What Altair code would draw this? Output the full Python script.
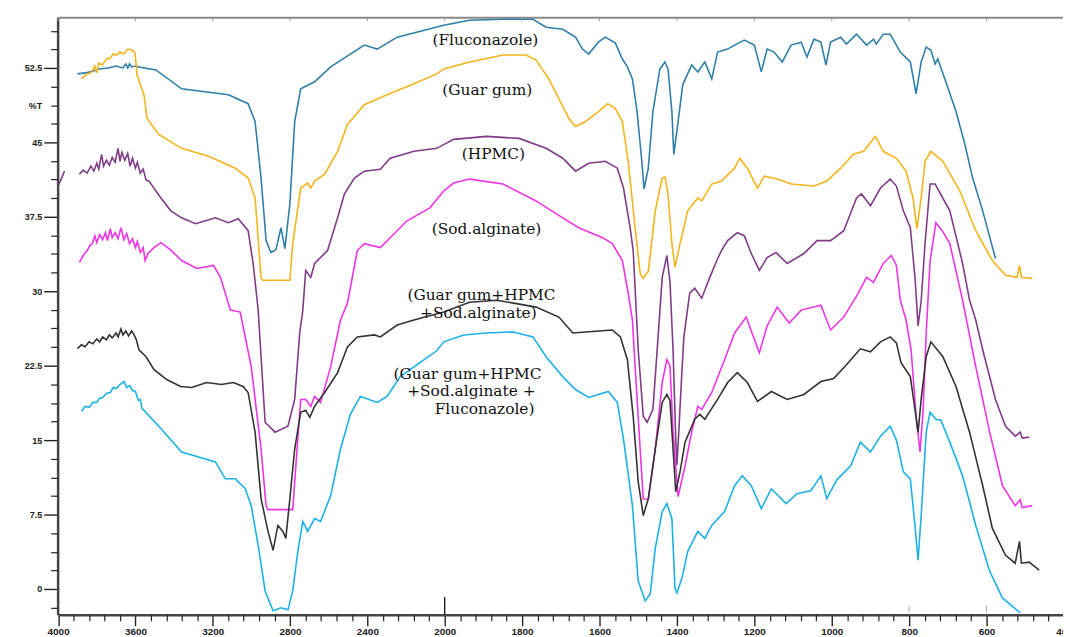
import altair as alt
import pandas as pd

# ---------------- data (wavenumber cm-1, %T) ----------------
FLU_WN = [3900, 3860, 3820, 3787, 3740, 3700, 3665, 3650, 3640, 3630, 3620, 3600, 3582, 3494, 3361, 3119, 3017, 2981, 2950, 2924, 2899, 2873, 2847, 2827, 2801, 2776, 2745, 2673, 2590, 2416, 2349, 2246, 2005, 1936, 1849, 1772, 1738, 1695, 1662, 1644, 1628, 1603, 1585, 1559, 1541, 1528, 1515, 1503, 1490, 1485, 1474, 1462, 1444, 1431, 1423, 1413, 1408, 1397, 1385, 1362, 1346, 1328, 1310, 1295, 1269, 1251, 1226, 1200, 1182, 1167, 1149, 1128, 1105, 1079, 1064, 1046, 1028, 1015, 1003, 977, 962, 936, 910, 892, 885, 867, 849, 823, 797, 782, 769, 756, 744, 733, 726, 708, 679, 656, 636, 610, 577]
FLU_T = [51.9, 52.0, 52.2, 52.4, 52.5, 52.7, 52.5, 52.9, 52.5, 52.9, 52.6, 52.7, 52.6, 52.3, 50.4, 49.8, 48.9, 47.1, 41.4, 35.1, 33.9, 34.2, 36.4, 34.3, 38.8, 47.1, 50.4, 51.1, 52.6, 54.8, 54.4, 55.6, 56.8, 57.3, 57.4, 57.4, 56.6, 56.4, 55.6, 54.4, 53.9, 55.1, 55.6, 55.0, 53.4, 52.6, 51.4, 48.1, 42.8, 40.3, 42.4, 48.1, 52.4, 53.1, 52.4, 48.1, 43.8, 47.1, 50.8, 52.8, 52.1, 53.1, 51.4, 54.1, 54.4, 54.8, 55.3, 54.8, 52.1, 54.4, 54.1, 53.1, 54.8, 55.1, 53.6, 55.4, 55.1, 52.8, 55.1, 55.6, 54.9, 55.9, 54.8, 55.4, 54.9, 55.9, 55.9, 54.1, 53.1, 49.9, 53.1, 54.6, 54.3, 52.9, 53.4, 51.4, 48.1, 44.8, 41.4, 38.1, 33.3]

GUAR_WN = [3879, 3850, 3830, 3810, 3800, 3790, 3771, 3750, 3730, 3715, 3700, 3680, 3660, 3640, 3617, 3602, 3592, 3556, 3540, 3479, 3361, 3222, 3083, 3017, 2981, 2950, 2940, 2801, 2786, 2745, 2709, 2693, 2673, 2621, 2554, 2503, 2416, 2298, 2159, 2041, 2005, 1936, 1849, 1790, 1764, 1731, 1705, 1679, 1662, 1636, 1603, 1579, 1559, 1541, 1526, 1508, 1495, 1487, 1474, 1456, 1438, 1431, 1423, 1413, 1405, 1392, 1372, 1346, 1336, 1310, 1285, 1251, 1238, 1218, 1192, 1174, 1141, 1105, 1046, 1013, 977, 944, 918, 887, 867, 833, 808, 790, 780, 769, 759, 744, 713, 669, 628, 585, 551, 521, 515, 510, 482]
GUAR_T = [51.4, 51.9, 52.0, 52.7, 52.0, 53.0, 52.8, 53.4, 53.5, 53.9, 53.8, 54.1, 53.9, 54.4, 54.3, 54.0, 51.8, 49.8, 47.4, 45.8, 44.4, 43.6, 42.4, 41.4, 39.4, 31.4, 31.1, 31.1, 34.8, 40.4, 40.9, 40.4, 41.1, 41.8, 44.1, 46.8, 48.8, 49.8, 50.9, 51.9, 52.4, 53.1, 53.8, 53.8, 53.3, 51.4, 49.4, 47.4, 46.6, 47.1, 48.1, 48.9, 48.4, 47.1, 43.1, 36.4, 31.8, 31.3, 32.0, 38.1, 41.4, 41.5, 39.8, 34.8, 32.4, 34.8, 38.1, 39.4, 39.1, 40.8, 41.1, 42.4, 43.4, 42.4, 40.4, 41.6, 41.3, 40.8, 40.6, 41.1, 42.4, 43.8, 44.1, 45.6, 44.1, 43.4, 42.1, 39.4, 36.3, 39.4, 43.1, 44.1, 43.1, 40.1, 36.1, 33.1, 31.6, 31.4, 32.6, 31.4, 31.3]

HPMC_START_WN = [4000, 3982, 3967]
HPMC_START_T = [40.6, 41.4, 42.1]
HPMC_WN = [3890, 3870, 3850, 3830, 3815, 3800, 3790, 3775, 3765, 3750, 3735, 3720, 3705, 3690, 3680, 3670, 3655, 3640, 3628, 3615, 3600, 3590, 3575, 3560, 3545, 3530, 3468, 3417, 3361, 3289, 3186, 3119, 3068, 3017, 2991, 2965, 2929, 2878, 2811, 2776, 2750, 2734, 2719, 2693, 2673, 2606, 2554, 2519, 2467, 2416, 2333, 2282, 2159, 2041, 1977, 1892, 1808, 1738, 1695, 1662, 1628, 1585, 1554, 1538, 1521, 1513, 1500, 1487, 1477, 1462, 1451, 1438, 1426, 1418, 1410, 1403, 1400, 1395, 1387, 1382, 1367, 1354, 1336, 1315, 1297, 1285, 1269, 1244, 1226, 1208, 1187, 1167, 1144, 1115, 1072, 1038, 1003, 969, 936, 923, 900, 874, 849, 833, 815, 797, 785, 777, 769, 759, 746, 733, 695, 662, 644, 628, 610, 577, 551, 526, 513, 508, 490]
HPMC_T = [41.8, 42.2, 41.9, 42.6, 42.1, 42.9, 42.3, 43.8, 42.6, 43.2, 42.7, 43.5, 43.0, 44.4, 43.1, 44.0, 43.2, 43.9, 42.6, 43.4, 42.4, 43.0, 41.9, 42.3, 41.2, 41.1, 39.4, 38.1, 37.4, 36.8, 37.4, 36.9, 37.3, 36.1, 32.8, 28.1, 16.8, 15.8, 16.4, 19.1, 25.8, 28.1, 32.1, 31.4, 32.8, 34.1, 37.4, 39.8, 41.4, 42.1, 42.3, 43.4, 44.1, 44.4, 45.3, 45.6, 45.4, 44.4, 43.4, 42.1, 42.9, 43.1, 42.4, 40.4, 36.4, 34.1, 24.1, 17.4, 16.8, 18.1, 24.1, 31.4, 33.6, 31.0, 24.1, 15.0, 12.5, 16.0, 22.0, 25.4, 29.8, 30.3, 29.3, 31.4, 33.1, 34.1, 35.1, 35.9, 35.6, 33.8, 32.1, 33.4, 33.9, 32.8, 33.8, 35.1, 35.1, 36.1, 39.4, 39.8, 38.6, 40.4, 41.3, 40.6, 38.1, 36.4, 31.4, 26.5, 29.0, 34.8, 40.8, 40.8, 38.1, 32.8, 29.1, 27.1, 24.1, 19.1, 16.4, 15.4, 15.8, 15.2, 15.3]

ALG_WN = [3890, 3870, 3850, 3835, 3823, 3810, 3800, 3785, 3770, 3755, 3745, 3730, 3720, 3705, 3690, 3675, 3660, 3645, 3630, 3615, 3600, 3590, 3575, 3560, 3550, 3535, 3504, 3468, 3420, 3361, 3283, 3196, 3160, 3109, 3058, 3001, 2950, 2924, 2914, 2786, 2770, 2745, 2719, 2693, 2673, 2642, 2590, 2539, 2503, 2452, 2416, 2333, 2246, 2195, 2077, 2005, 1977, 1936, 1849, 1764, 1695, 1654, 1592, 1567, 1541, 1526, 1515, 1508, 1495, 1487, 1474, 1456, 1438, 1426, 1418, 1410, 1397, 1379, 1362, 1346, 1336, 1310, 1277, 1251, 1221, 1208, 1187, 1167, 1141, 1110, 1079, 1028, 1003, 969, 936, 910, 892, 867, 846, 833, 823, 808, 795, 782, 772, 764, 756, 746, 731, 713, 695, 662, 628, 592, 559, 526, 513, 508, 482]
ALG_T = [32.9, 33.6, 34.1, 34.6, 34.8, 35.6, 34.9, 35.7, 35.2, 35.9, 35.1, 36.3, 35.4, 35.9, 35.3, 36.4, 35.2, 35.8, 34.8, 35.3, 34.4, 35.0, 33.9, 34.4, 33.1, 33.8, 34.4, 34.9, 34.2, 33.1, 32.3, 32.6, 31.4, 28.1, 27.9, 22.4, 14.1, 8.4, 8.0, 8.0, 12.4, 19.1, 19.1, 18.4, 19.4, 18.8, 22.4, 27.1, 28.8, 34.1, 34.8, 34.4, 36.1, 37.1, 38.4, 40.1, 40.9, 41.3, 40.8, 39.1, 37.4, 36.4, 35.4, 34.8, 33.1, 29.8, 27.1, 22.4, 14.1, 9.1, 9.0, 14.1, 20.8, 23.1, 22.5, 15.8, 9.3, 12.4, 15.8, 18.4, 18.1, 19.8, 23.1, 25.8, 27.4, 26.0, 23.8, 26.5, 28.4, 26.8, 28.1, 28.6, 26.1, 27.4, 29.5, 31.4, 30.9, 32.8, 33.6, 32.6, 29.1, 27.1, 24.1, 17.4, 13.8, 18.0, 25.8, 33.0, 36.9, 36.0, 34.8, 29.1, 22.4, 15.8, 10.4, 8.4, 9.0, 8.2, 8.4]

MIX_WN = [3900, 3880, 3860, 3840, 3820, 3800, 3785, 3770, 3750, 3735, 3720, 3700, 3690, 3675, 3665, 3650, 3635, 3620, 3607, 3595, 3582, 3545, 3504, 3438, 3366, 3309, 3232, 3155, 3093, 3043, 3017, 2981, 2950, 2914, 2888, 2863, 2837, 2822, 2801, 2776, 2745, 2719, 2698, 2673, 2621, 2554, 2503, 2452, 2364, 2333, 2246, 2159, 2005, 1936, 1865, 1764, 1705, 1669, 1636, 1567, 1546, 1528, 1513, 1500, 1487, 1474, 1456, 1438, 1426, 1418, 1410, 1403, 1392, 1379, 1354, 1341, 1328, 1295, 1269, 1244, 1218, 1192, 1156, 1115, 1072, 1028, 995, 962, 926, 900, 874, 849, 833, 821, 797, 785, 777, 769, 756, 744, 713, 679, 644, 610, 585, 551, 526, 515, 510, 490, 464]
MIX_T = [24.2, 24.6, 24.4, 24.9, 24.7, 25.2, 24.9, 25.4, 25.1, 25.6, 25.3, 25.8, 25.4, 26.2, 25.6, 26.0, 25.5, 26.0, 25.6, 25.1, 24.1, 23.4, 22.1, 21.1, 20.4, 20.3, 20.8, 20.6, 20.8, 20.4, 19.8, 15.8, 9.1, 5.8, 3.9, 6.4, 5.8, 5.1, 9.1, 14.1, 17.8, 18.0, 17.3, 18.4, 19.8, 21.8, 24.4, 25.4, 25.6, 25.4, 26.6, 27.1, 27.9, 28.9, 29.1, 28.4, 27.4, 25.8, 25.9, 26.1, 25.4, 23.1, 17.4, 10.8, 7.4, 9.1, 14.1, 18.8, 19.6, 19.0, 14.1, 9.8, 11.8, 14.8, 17.1, 17.6, 17.1, 19.1, 20.8, 21.8, 20.8, 18.9, 19.9, 19.1, 19.6, 20.9, 21.2, 22.6, 24.2, 23.9, 24.9, 25.4, 24.8, 22.8, 21.4, 18.1, 15.8, 19.1, 23.4, 24.9, 23.4, 20.4, 15.8, 10.4, 6.1, 3.4, 2.6, 4.8, 2.6, 2.7, 1.9]

MIXF_WN = [3879, 3860, 3840, 3820, 3800, 3787, 3770, 3750, 3730, 3715, 3700, 3680, 3659, 3645, 3630, 3615, 3600, 3585, 3575, 3566, 3479, 3361, 3273, 3186, 3135, 3083, 3032, 3001, 2965, 2929, 2888, 2847, 2811, 2786, 2760, 2734, 2709, 2673, 2642, 2590, 2539, 2488, 2436, 2349, 2298, 2230, 2128, 2041, 2005, 1951, 1892, 1823, 1772, 1738, 1695, 1662, 1628, 1603, 1577, 1554, 1538, 1515, 1500, 1482, 1469, 1456, 1438, 1426, 1413, 1405, 1400, 1387, 1372, 1346, 1328, 1310, 1277, 1251, 1231, 1208, 1182, 1156, 1118, 1090, 1054, 1028, 1013, 987, 951, 926, 900, 874, 849, 833, 815, 797, 785, 777, 769, 756, 746, 731, 718, 695, 662, 628, 592, 559, 513]
MIXF_T = [17.9, 18.4, 18.3, 18.8, 18.8, 19.2, 19.3, 19.7, 19.8, 20.3, 20.2, 20.6, 20.9, 20.3, 20.5, 20.0, 19.9, 19.0, 19.1, 18.2, 16.4, 13.8, 13.3, 12.8, 11.1, 11.1, 10.1, 8.4, 4.4, -0.2, -2.2, -1.9, -2.1, -0.2, 3.8, 6.8, 5.8, 7.1, 6.8, 9.4, 14.1, 17.6, 19.4, 18.8, 19.4, 21.4, 22.8, 24.0, 24.9, 25.6, 25.8, 25.9, 25.4, 23.4, 21.4, 20.1, 19.3, 19.6, 19.9, 18.8, 15.1, 8.4, 0.8, -1.2, -0.5, 4.1, 7.8, 8.6, 7.1, 0.1, -0.4, 1.1, 3.8, 5.8, 5.1, 6.4, 7.8, 10.4, 11.4, 10.4, 8.1, 10.1, 8.6, 9.6, 9.9, 11.4, 9.1, 11.0, 12.4, 14.8, 13.8, 15.4, 16.4, 15.0, 11.8, 11.1, 6.4, 2.9, 7.4, 15.8, 17.8, 17.1, 17.0, 14.8, 11.4, 6.4, 1.8, -0.9, -2.4]

SERIES_NAMES = ["Fluconazole", "Guar gum", "HPMC", "Sod.alginate", "Mix", "Mix+Fluconazole"]
SERIES_COLORS = ["#2f7fa8", "#f4b41c", "#7e3d86", "#ee34e4", "#333333", "#1cb1e6"]

# annotation labels
LABEL_TEXT = ["(Fluconazole)", "(Guar gum)", "(HPMC)", "(Sod.alginate)",
              "(Guar gum+HPMC", "+Sod.alginate)",
              "(Guar gum+HPMC", "+Sod.alginate +", "Fluconazole)"]
LABEL_WN = [1895, 1890, 1874, 1892, 1905, 1913, 1941, 1931, 1897]
LABEL_T = [55.3, 50.3, 43.8, 36.3, 29.6, 27.8, 21.7, 19.9, 18.1]

# axis ticks
MAJOR_X = [4000, 3600, 3200, 2800, 2400, 2000, 1800, 1600, 1400, 1200, 1000, 800, 600, 400]
MINOR_X = [v for v in range(3920, 2000, -80) if v % 400 != 0] + \
          [v for v in range(1960, 400, -40) if v % 200 != 0]
MAJOR_Y = [0, 7.5, 15, 22.5, 30, 37.5, 45, 52.5]
MINOR_Y = [round(-1.875 + 1.875 * k, 3) for k in range(32) if k % 4 != 1]
BREAK_WN = [2000]
GREY_WN = [800, 600]

# ---------------- build tables ----------------
rows = []
def add(name, seg, wn, t):
    for i, (w, v) in enumerate(zip(wn, t)):
        rows.append({"series": name, "seg": seg, "wn": w, "T": v, "i": i})

add("Fluconazole", "flu", FLU_WN, FLU_T)
add("Guar gum", "guar", GUAR_WN, GUAR_T)
add("HPMC", "hpmc0", HPMC_START_WN, HPMC_START_T)
add("HPMC", "hpmc", HPMC_WN, HPMC_T)
add("Sod.alginate", "alg", ALG_WN, ALG_T)
add("Mix", "mix", MIX_WN, MIX_T)
add("Mix+Fluconazole", "mixf", MIXF_WN, MIXF_T)
df = pd.DataFrame(rows)

labels = pd.DataFrame({"text": LABEL_TEXT, "wn": LABEL_WN, "T": LABEL_T})
top_ticks = pd.DataFrame({"wn": MAJOR_X})
breaks = pd.DataFrame({"wn": BREAK_WN})
greys = pd.DataFrame({"wn": GREY_WN})

# ---------------- scales / axes ----------------
xscale = alt.Scale(domain=[4000, 2000, 400], range=[0.5, 390, 1014])
yscale = alt.Scale(domain=[-2.6, 57.6])

LBL = dict(labelFont="Liberation Sans", labelFontWeight="bold", labelColor="#222")

x_major = alt.Axis(orient="bottom", values=MAJOR_X, title=None, grid=False,
                   tickSize=11, tickWidth=1.4, tickColor="#222",
                   domainColor="#444", domainWidth=2.5,
                   labelFontSize=10, labelPadding=1, labelFlush=False,
                   labelExpr="datum.value + ''", labelOverlap=False, **LBL)
x_minor = alt.Axis(orient="bottom", values=MINOR_X, title=None, grid=False,
                   tickSize=6, tickWidth=1.2, tickColor="#222",
                   domain=False, labels=False)
x_top = alt.Axis(orient="top", values=MAJOR_X, title=None, grid=False,
                 ticks=False, labels=False, domainColor="#8a8a8a", domainWidth=2)

y_major = alt.Axis(orient="left", values=MAJOR_Y, title=None, grid=False,
                   tickSize=14, tickWidth=1.4, tickColor="#222",
                   domainColor="#444", domainWidth=2.5,
                   labelFontSize=9, labelPadding=2,
                   labelExpr="datum.value + ''", labelOverlap=False, **LBL)
y_minor = alt.Axis(orient="left", values=MINOR_Y, title=None, grid=False,
                   tickSize=7, tickWidth=1.2, tickColor="#222", domain=False,
                   labelFontSize=9, labelPadding=9,
                   labelExpr="datum.value == 48.75 ? '%T' : ''", labelOverlap=False, **LBL)

lines = alt.Chart(df).mark_line(strokeWidth=1.6, clip=True).encode(
    x=alt.X("wn:Q", scale=xscale, axis=x_major),
    y=alt.Y("T:Q", scale=yscale, axis=y_major),
    color=alt.Color("series:N", scale=alt.Scale(domain=SERIES_NAMES, range=SERIES_COLORS), legend=None),
    detail="seg:N",
    order="i:Q",
)

text = alt.Chart(labels).mark_text(font="DejaVu Serif", fontSize=15.5, color="#111",
                                   align="center", baseline="middle").encode(
    x=alt.X("wn:Q", scale=xscale, axis=x_minor),
    y=alt.Y("T:Q", scale=yscale, axis=y_minor),
    text="text:N",
)

tops = alt.Chart(top_ticks).mark_rule(color="#9a9a9a", strokeWidth=1).encode(
    x=alt.X("wn:Q", scale=xscale, axis=x_top),
    y=alt.datum(57.6, scale=yscale, axis=None),
    y2=alt.datum(57.2),
)

brk = alt.Chart(breaks).mark_rule(color="#222", strokeWidth=1.4).encode(
    x=alt.X("wn:Q", scale=xscale, axis=None),
    y=alt.datum(-2.6, scale=yscale, axis=None),
    y2=alt.datum(-0.8),
)

grey = alt.Chart(greys).mark_rule(color="#aaaaaa", strokeWidth=1).encode(
    x=alt.X("wn:Q", scale=xscale, axis=None),
    y=alt.datum(-2.4, scale=yscale, axis=None),
    y2=alt.datum(-1.7),
)

chart = alt.layer(lines, text, tops, brk, grey).resolve_axis(
    x="independent", y="independent"
).properties(
    width=1013, height=602,
    autosize=alt.AutoSizeParams(type="none"),
    padding={"left": 50, "top": 7, "right": 0, "bottom": 22},
    background="white",
).configure_view(stroke=None)

chart.save("out.html", embed_options={"renderer": "svg", "actions": False})
